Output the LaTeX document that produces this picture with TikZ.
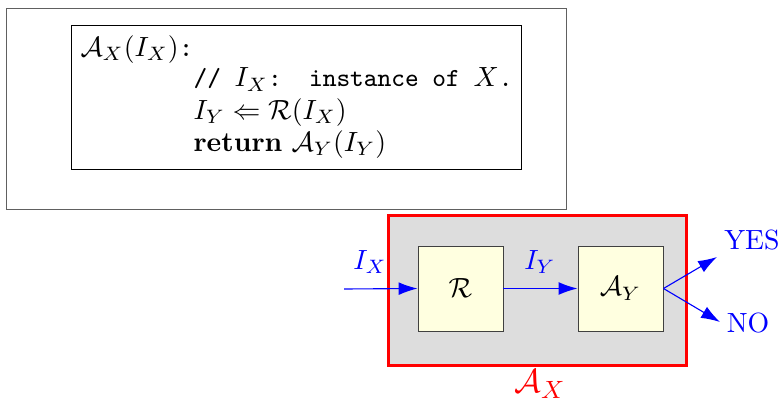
\documentclass[tikz,border=0pt]{standalone}
\usepackage{amsmath,amssymb}
\usetikzlibrary{arrows.meta}
\definecolor{boxgray}{HTML}{DDDDDD}
\definecolor{boxyellow}{HTML}{FFFFE0}
\definecolor{frame}{HTML}{606060}
\newcommand{\cmt}[1]{{\fontsize{9.4}{11}\selectfont\texttt{#1}}}
\tikzset{
  codeline/.style={anchor=base west, inner sep=0pt},
  unitbox/.style={draw=black!75, fill=boxyellow, line width=0.35pt},
  flow/.style={blue, line width=0.4pt, -{Latex[length=6.8pt,width=4.6pt]}},
  bluelabel/.style={blue, inner sep=0pt},
}
\begin{document}
\begin{tikzpicture}[x=0.36pt, y=-0.36pt]
\useasboundingbox (0,0) rectangle (781,402);
% outer frame
\node[draw=frame, line width=0.5pt, minimum width=560*0.36pt, minimum height=201*0.36pt, inner sep=0pt, anchor=north west] (outer) at (6,8) {};
% code box
\node[draw=black, line width=0.35pt, minimum width=450*0.36pt, minimum height=144*0.36pt, inner sep=0pt, anchor=north west] (code) at (71,25) {};
\node[codeline] (l1) at (80,56) {$\mathcal{A}_X(I_X)$\texttt{:}};
\node[codeline] (l2) at (193,87) {\cmt{//\ }$I_X$\cmt{:\ \ instance\ of\ }$X$\cmt{.}};
\node[codeline] (l3) at (193,119) {$I_Y \Leftarrow \mathcal{R}(I_X)$};
\node[codeline] (l4) at (193,151) {\textbf{return} $\mathcal{A}_Y(I_Y)$};
% reduction box
\node[draw=red, fill=boxgray, line width=1.1pt, minimum width=298*0.36pt, minimum height=150*0.36pt, inner sep=0pt, anchor=north west] (ax) at (387,214) {};
\node[unitbox, minimum width=85*0.36pt, minimum height=85*0.36pt, inner sep=0pt] (R) at (460.5,288.5) {$\mathcal{R}$};
\node[unitbox, minimum width=85*0.36pt, minimum height=85*0.36pt, inner sep=0pt] (AY) at (620.5,288.5) {$\mathcal{A}_Y$};
\coordinate (in) at (344,289);
\coordinate (yes) at (717,257);
\coordinate (no) at (720,322);
\draw[flow] (in) -- (R.west);
\draw[flow] (R.east) -- (AY.west);
\draw[flow] (AY.east) -- (yes);
\draw[flow] (AY.east) -- (no);
\node[bluelabel] (lix) at (370,262) {$I_X$};
\node[bluelabel] (liy) at (540,262) {$I_Y$};
\node[bluelabel] (lyes) at (752,240) {YES};
\node[bluelabel] (lno) at (748,323) {NO};
\node[red, inner sep=0pt, font=\fontsize{13}{15}\selectfont] (lax) at (540,384) {$\mathcal{A}_X$};
\end{tikzpicture}
\end{document}
